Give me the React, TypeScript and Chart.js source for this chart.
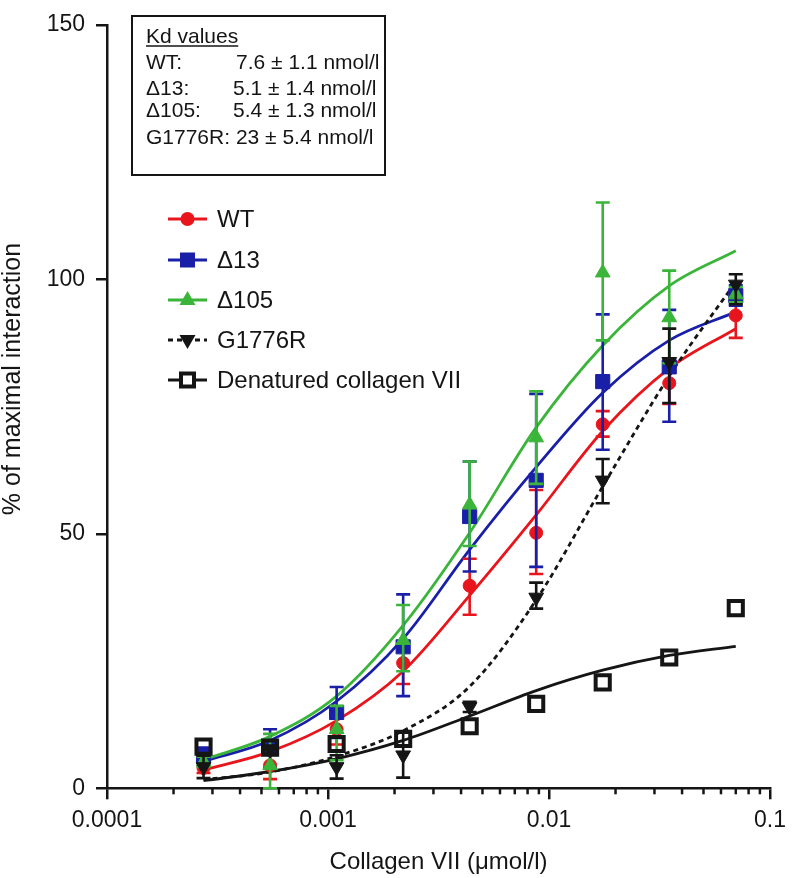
import React, { useEffect, useRef } from 'react';
import { Chart, registerables } from 'chart.js';

Chart.register(...registerables);

// ---------- data ----------
const X_CONC = [0.0002734, 0.0005469, 0.001094, 0.002188, 0.004375, 0.00875, 0.0175, 0.035, 0.07];

const X_TICKS = [0.0001, 0.001, 0.01, 0.1];
const X_TICK_LABELS = ['0.0001', '0.001', '0.01', '0.1'];
const X_MINOR_STEPS = [2, 3, 4, 5, 6, 7, 8, 9];
const Y_TICKS = [0, 50, 100, 150];

const SERIES_NAMES = ['WT', 'Δ13', 'Δ105', 'G1776R', 'Denatured collagen VII'];

// measured points (mean, lower / upper end of error bar)
const WT_Y = [4.0, 4.5, 11.6, 24.6, 39.8, 50.2, 71.5, 79.6, 92.9];
const WT_LO = [3.0, 1.8, 8.6, 20.5, 34.1, 42.1, 69.1, 75.5, 88.5];
const WT_HI = [5.0, 7.2, 14.6, 28.7, 45.1, 58.6, 74.1, 83.7, 97.3];

const D13_Y = [6.5, 7.8, 14.9, 27.8, 53.4, 60.5, 79.9, 82.8, 96.8];
const D13_LO = [5.0, 4.0, 9.9, 18.1, 42.6, 43.5, 66.5, 72.0, 94.8];
const D13_HI = [8.0, 11.6, 19.9, 38.1, 64.2, 77.5, 93.1, 94.0, 98.8];

const D105_Y = [5.2, 4.5, 11.6, 29.1, 55.7, 68.9, 101.3, 92.5, 97.0];
const D105_LO = [4.2, 0.0, 5.5, 23.0, 47.6, 59.8, 88.0, 83.5, 95.5];
const D105_HI = [6.2, 10.7, 16.2, 36.0, 64.2, 78.0, 115.1, 101.7, 98.5];

const G_Y = [4.2, 7.6, 4.2, 6.5, 16.0, 37.5, 60.5, 83.8, 99.0];
const G_LO = [2.0, 6.8, 1.9, 2.1, 15.0, 35.3, 56.0, 75.7, 95.1];
const G_HI = [6.4, 8.4, 6.5, 10.9, 17.0, 40.4, 64.7, 90.3, 101.0];

const DEN_Y = [8.2, 8.0, 8.7, 9.7, 12.2, 16.6, 20.8, 25.7, 35.4];

// fitted curves at each concentration
const WT_FIT = [3.6, 7.2, 13.3, 23.0, 37.9, 53.7, 70.2, 82.5, 90.3];
const D13_FIT = [5.3, 9.4, 17.1, 29.4, 46.9, 63.1, 77.7, 88.0, 93.6];
const D105_FIT = [5.6, 10.2, 18.1, 32.0, 50.2, 70.9, 87.0, 98.7, 105.6];
const G_FIT = [1.7, 3.2, 6.3, 11.3, 20.0, 37.0, 59.3, 81.0, 99.5];
const DEN_FIT = [1.5, 3.3, 5.8, 9.4, 14.2, 19.2, 23.2, 26.1, 27.9];

const KD_TITLE = 'Kd values';
const KD_LABELS = ['WT:', 'Δ13:', 'Δ105:'];
const KD_VALUES = ['7.6 ± 1.1 nmol/l', '5.1 ± 1.4 nmol/l', '5.4 ± 1.3 nmol/l'];
const KD_LAST = 'G1776R: 23 ± 5.4 nmol/l';

// ---------- styles ----------
const FONT = '"Liberation Sans", Arial, Helvetica, sans-serif';
const RED = '#e8161c';
const BLUE = '#1a1fa8';
const GREEN = '#3ab53a';
const BLACK = '#151515';

const pts = (ys: number[]) => X_CONC.map((x, i) => ({ x, y: ys[i] }));

type Marker = 'circle' | 'square' | 'tri' | 'triDown' | 'openSquare';

function drawMarker(ctx: CanvasRenderingContext2D, type: Marker, x: number, y: number, color: string) {
  ctx.save();
  ctx.fillStyle = color;
  ctx.strokeStyle = color;
  ctx.beginPath();
  if (type === 'circle') {
    ctx.arc(x, y, 7, 0, Math.PI * 2);
    ctx.fill();
  } else if (type === 'square') {
    ctx.rect(x - 7.5, y - 7.5, 15, 15);
    ctx.fill();
  } else if (type === 'tri') {
    ctx.moveTo(x, y - 9);
    ctx.lineTo(x + 8, y + 5);
    ctx.lineTo(x - 8, y + 5);
    ctx.closePath();
    ctx.fill();
  } else if (type === 'triDown') {
    ctx.moveTo(x, y + 9);
    ctx.lineTo(x + 8, y - 5);
    ctx.lineTo(x - 8, y - 5);
    ctx.closePath();
    ctx.fill();
  } else {
    ctx.lineWidth = 4;
    ctx.fillStyle = '#fff';
    ctx.rect(x - 6.5, y - 6.5, 13, 13);
    ctx.fill();
    ctx.stroke();
  }
  ctx.restore();
}

const errorBarPlugin = {
  id: 'errorBars',
  beforeDatasetDraw(chart: any, args: any) {
    const ds = chart.data.datasets[args.index];
    if (!ds.errLo) return;
    const { ctx } = chart;
    const xs = chart.scales.x;
    const ys = chart.scales.y;
    ctx.save();
    ctx.strokeStyle = ds.borderColor;
    ctx.lineWidth = 2.6;
    ds.data.forEach((p: any, i: number) => {
      const px = xs.getPixelForValue(p.x);
      const lo = ys.getPixelForValue(ds.errLo[i]);
      const hi = ys.getPixelForValue(ds.errHi[i]);
      ctx.beginPath();
      ctx.moveTo(px, lo);
      ctx.lineTo(px, hi);
      ctx.moveTo(px - 7, lo);
      ctx.lineTo(px + 7, lo);
      ctx.moveTo(px - 7, hi);
      ctx.lineTo(px + 7, hi);
      ctx.stroke();
    });
    ctx.restore();
  },
};

const decorPlugin = {
  id: 'decor',
  afterDraw(chart: any) {
    const { ctx, chartArea } = chart;
    const xs = chart.scales.x;

    // minor ticks on log axis
    ctx.save();
    ctx.strokeStyle = BLACK;
    ctx.lineWidth = 2.5;
    X_TICKS.slice(0, -1).forEach((d) => {
      X_MINOR_STEPS.forEach((k) => {
        const px = xs.getPixelForValue(d * k);
        ctx.beginPath();
        ctx.moveTo(px, chartArea.bottom);
        ctx.lineTo(px, chartArea.bottom + 6);
        ctx.stroke();
      });
    });
    ctx.restore();

    // y axis title
    ctx.save();
    ctx.fillStyle = BLACK;
    ctx.font = `25px ${FONT}`;
    ctx.textAlign = 'center';
    ctx.textBaseline = 'middle';
    ctx.translate(13, 379);
    ctx.rotate(-Math.PI / 2);
    ctx.fillText('% of maximal interaction', 0, 0);
    ctx.restore();

    // Kd box
    ctx.save();
    ctx.strokeStyle = BLACK;
    ctx.lineWidth = 2;
    ctx.strokeRect(132, 16, 253, 159);
    ctx.fillStyle = BLACK;
    ctx.font = `21px ${FONT}`;
    ctx.textAlign = 'left';
    ctx.textBaseline = 'middle';
    ctx.fillText(KD_TITLE, 146, 37);
    const tw = ctx.measureText(KD_TITLE).width;
    ctx.lineWidth = 1.5;
    ctx.beginPath();
    ctx.moveTo(146, 46);
    ctx.lineTo(146 + tw, 46);
    ctx.stroke();
    const rowsY = [63, 89, 111];
    const valX = [236, 233, 233];
    KD_LABELS.forEach((l, i) => {
      ctx.fillText(l, 146, rowsY[i]);
      ctx.fillText(KD_VALUES[i], valX[i], rowsY[i]);
    });
    ctx.fillText(KD_LAST, 146, 138);
    ctx.restore();

    // legend
    const legendY = [219, 260, 300, 340, 380];
    const legendColors = [RED, BLUE, GREEN, BLACK, BLACK];
    const legendMarkers: Marker[] = ['circle', 'square', 'tri', 'triDown', 'openSquare'];
    SERIES_NAMES.forEach((name, i) => {
      const y = legendY[i];
      ctx.save();
      ctx.strokeStyle = legendColors[i];
      ctx.lineWidth = 3;
      if (i === 3) ctx.setLineDash([5, 4]);
      ctx.beginPath();
      ctx.moveTo(168, y);
      ctx.lineTo(207, y);
      ctx.stroke();
      ctx.restore();
      drawMarker(ctx, legendMarkers[i], 187.5, y, legendColors[i]);
      ctx.save();
      ctx.fillStyle = BLACK;
      ctx.font = `24px ${FONT}`;
      ctx.textAlign = 'left';
      ctx.textBaseline = 'middle';
      ctx.fillText(name, 217, y + 1);
      ctx.restore();
    });
  },
};

export default function App() {
  const canvasRef = useRef<HTMLCanvasElement | null>(null);

  useEffect(() => {
    if (!canvasRef.current) return;
    const fitLine = (data: number[], color: string, order: number, dash: number[] = []) => ({
      type: 'line' as const,
      data: pts(data),
      borderColor: color,
      borderWidth: 2.8,
      borderDash: dash,
      pointRadius: 0,
      cubicInterpolationMode: 'monotone' as const,
      fill: false,
      order,
    });
    const pointSet = (data: number[], color: string, style: string, radius: number, order: number, lo?: number[], hi?: number[], rot = 0, open = false) => ({
      type: 'line' as const,
      data: pts(data),
      showLine: false,
      borderColor: color,
      backgroundColor: open ? 'rgba(0,0,0,0)' : color,
      pointStyle: style,
      pointRadius: radius,
      pointRotation: rot,
      pointBorderWidth: open ? 4 : 1,
      pointBorderColor: color,
      pointBackgroundColor: open ? 'rgba(0,0,0,0)' : color,
      errLo: lo,
      errHi: hi,
      order,
    });

    const chart = new Chart(canvasRef.current, {
      type: 'line',
      data: {
        datasets: [
          fitLine(WT_FIT, RED, 10),
          fitLine(D13_FIT, BLUE, 9),
          fitLine(D105_FIT, GREEN, 8),
          fitLine(G_FIT, BLACK, 7, [5, 4]),
          fitLine(DEN_FIT, BLACK, 6),
          pointSet(WT_Y, RED, 'circle', 6.5, 5, WT_LO, WT_HI),
          pointSet(D13_Y, BLUE, 'rect', 10, 4, D13_LO, D13_HI),
          pointSet(D105_Y, GREEN, 'triangle', 8.5, 3, D105_LO, D105_HI),
          pointSet(G_Y, BLACK, 'triangle', 8.5, 2, G_LO, G_HI, 180),
          pointSet(DEN_Y, BLACK, 'rect', 10, 1, undefined, undefined, 0, true),
        ] as any,
      },
      options: {
        animation: false,
        responsive: true,
        maintainAspectRatio: false,
        layout: { padding: { left: 0, right: 21, top: 15.8, bottom: 0 } },
        plugins: { legend: { display: false }, tooltip: { enabled: false } },
        scales: {
          x: {
            type: 'logarithmic',
            min: 0.0001,
            max: 0.1,
            afterBuildTicks: (scale: any) => {
              scale.ticks = X_TICKS.map((v) => ({ value: v, major: true }));
            },
            afterFit: (scale: any) => {
              scale.height = 89.7;
            },
            ticks: {
              autoSkip: false,
              maxRotation: 0,
              padding: 8,
              color: BLACK,
              font: { family: FONT, size: 23 },
              callback: (v: any) => {
                const i = X_TICKS.findIndex((t) => Math.abs(t - Number(v)) / t < 1e-6);
                return i >= 0 ? X_TICK_LABELS[i] : '';
              },
            },
            grid: { display: true, drawOnChartArea: false, drawTicks: true, tickLength: 11, lineWidth: 2.5, color: BLACK },
            border: { display: true, color: BLACK, width: 2.5 },
            title: {
              display: true,
              text: 'Collagen VII (μmol/l)',
              color: BLACK,
              font: { family: FONT, size: 24 },
              padding: { top: 0, bottom: 1 },
            },
          },
          y: {
            type: 'linear',
            min: 0,
            max: 150,
            afterBuildTicks: (scale: any) => {
              scale.ticks = Y_TICKS.map((v) => ({ value: v }));
            },
            afterFit: (scale: any) => {
              scale.width = 107;
            },
            ticks: {
              padding: 11,
              color: BLACK,
              font: { family: FONT, size: 23 },
            },
            grid: { display: true, drawOnChartArea: false, drawTicks: true, tickLength: 11, lineWidth: 2.5, color: BLACK },
            border: { display: true, color: BLACK, width: 2.5 },
          },
        },
      } as any,
      plugins: [errorBarPlugin, decorPlugin],
    });
    return () => chart.destroy();
  }, []);

  return (
    <div style={{ position: 'absolute', left: 0, top: 0, width: 794, height: 878, background: '#fff' }}>
      <canvas ref={canvasRef} />
    </div>
  );
}
